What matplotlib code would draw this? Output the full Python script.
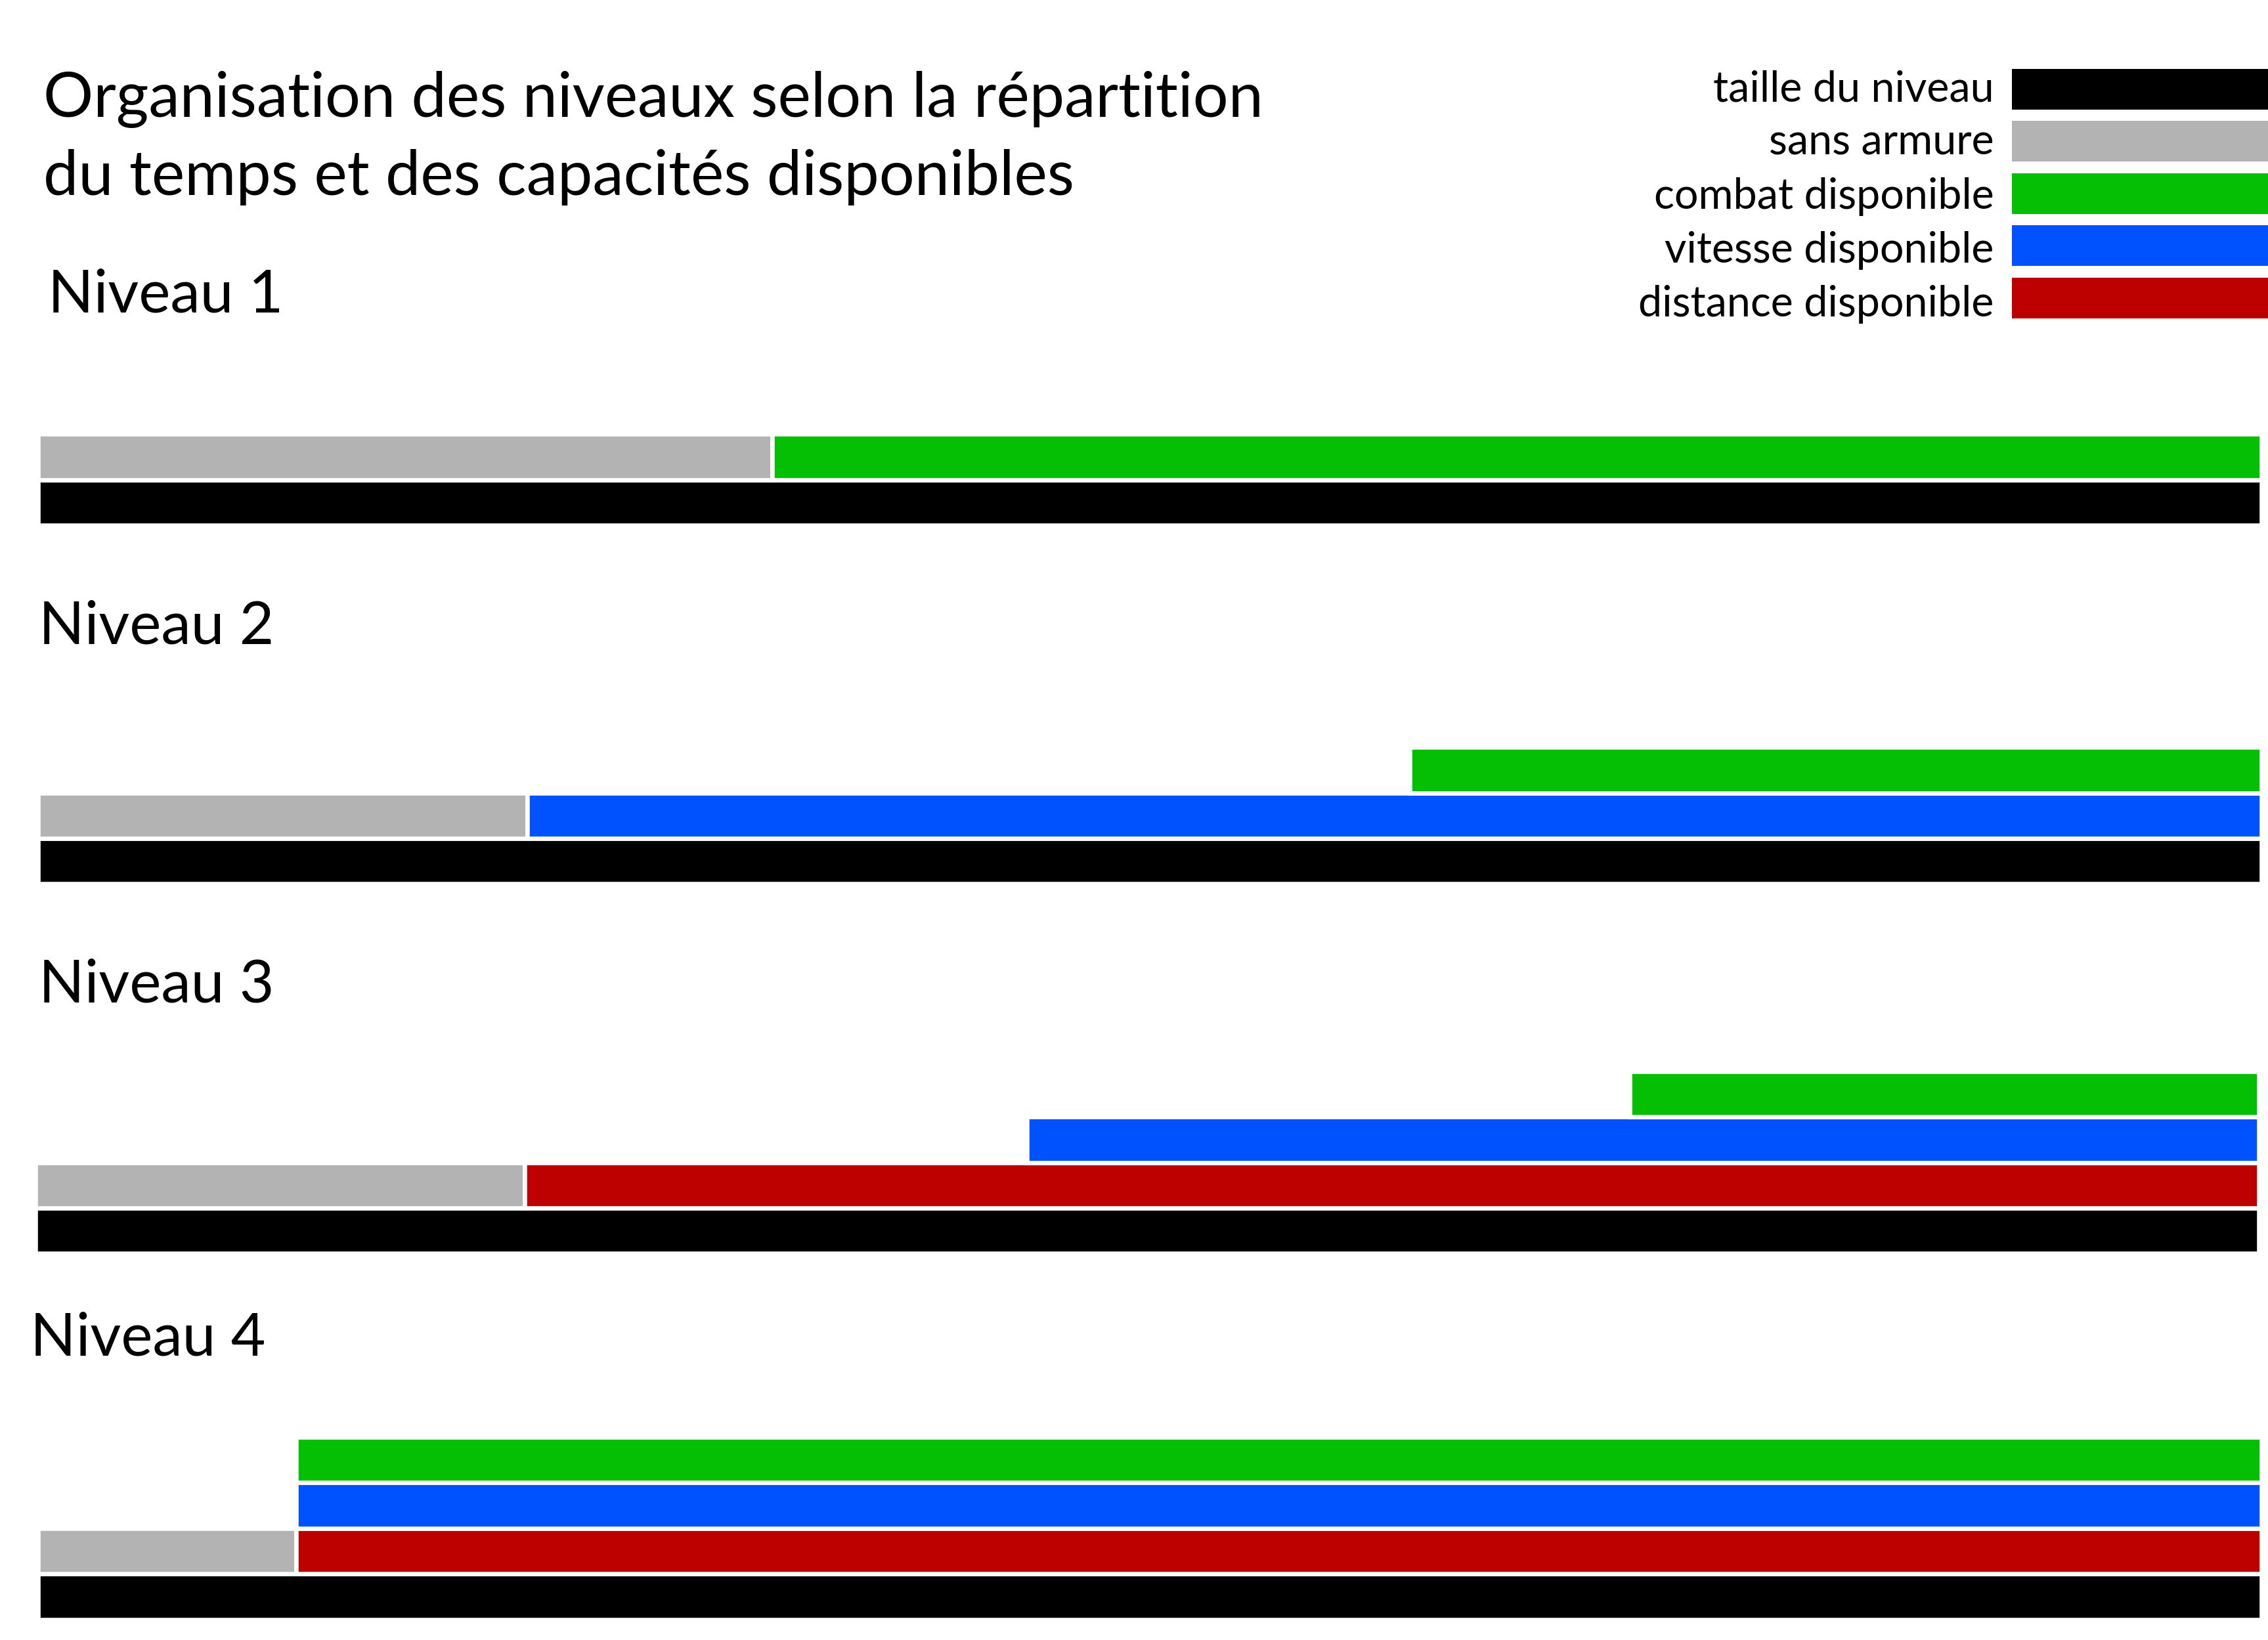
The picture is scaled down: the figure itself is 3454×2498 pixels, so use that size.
import matplotlib.pyplot as plt
import matplotlib.transforms as mtransforms

plt.rcParams['font.family'] = ['Lato', 'DejaVu Sans']

# durées en % de la taille du niveau
niveaux = ["Niveau 1", "Niveau 2", "Niveau 3", "Niveau 4"]
taille = [100, 100, 100, 100]
sans_armure = [33, 22, 22, 11.6]
distance = [None, None, 22, 11.6]
vitesse = [None, 22, 44.6, 11.6]
combat = [33, 61.7, 71.7, 11.6]

legende = ["taille du niveau", "sans armure", "combat disponible",
           "vitesse disponible", "distance disponible"]
couleurs = ["#000000", "#b3b3b3", "#04bf04", "#0052ff", "#bd0000"]
noir, gris, vert, bleu, rouge = couleurs

titre = ["Organisation des niveaux selon la répartition",
         "du temps et des capacités disponibles"]

# mise en page (unités de l'image de référence réduite 1568x1134)
W, H = 1568., 1134.
centre_noir = [347.5, 595.5, 851, 1104]
decalage = [0, 0, -2, 0]
label_pos = [(33, 216), (27, 445), (27, 693), (21, 937)]
pas = 31.5
lw = 4.75

fig = plt.figure(figsize=(34.54, 24.98), dpi=100)

fig.text(30 / W, 1 - 81 / H, titre[0], fontsize=68.5, va='baseline')
fig.text(30 / W, 1 - 135 / H, titre[1], fontsize=68.5, va='baseline')

for i, nom in enumerate(niveaux):
    bas = centre_noir[i] + pas / 2
    ax = fig.add_axes([(26.5 + decalage[i]) / W, 1 - bas / H, 1537 / W, 4 * pas / H])
    ax.barh(0, taille[i], height=1, color=noir, edgecolor='white', linewidth=lw)
    ax.barh(1, sans_armure[i], height=1, color=gris, edgecolor='white', linewidth=lw)
    pile = [(distance[i], rouge), (vitesse[i], bleu), (combat[i], vert)]
    pile = [p for p in pile if p[0] is not None]
    for k, (debut, c) in enumerate(pile):
        ax.barh(1 + k, taille[i] - debut, left=debut, height=1, color=c,
                edgecolor='white', linewidth=lw)
    ax.set_xlim(0, 100)
    ax.set_ylim(-0.5, 3.5)
    ax.axis('off')
    fig.text(label_pos[i][0] / W, 1 - label_pos[i][1] / H, nom,
             fontsize=65.5, va='baseline')

# légende
lax = fig.add_axes([1391 / W, 1 - 224 / H, 177 / W, 180.5 / H])
lax.barh(range(len(legende)), [1] * len(legende), height=0.78, color=couleurs)
lax.set_xlim(0, 1)
lax.set_ylim(len(legende) - 0.5, -0.5)
lax.axis('off')
trans = mtransforms.blended_transform_factory(lax.transAxes, lax.transData)
for k, lab in enumerate(legende):
    lax.text(-0.07, k + 0.03 * k, lab, transform=trans, ha='right', va='center',
             fontsize=46.5)

fig.savefig("out.png", dpi=100)
